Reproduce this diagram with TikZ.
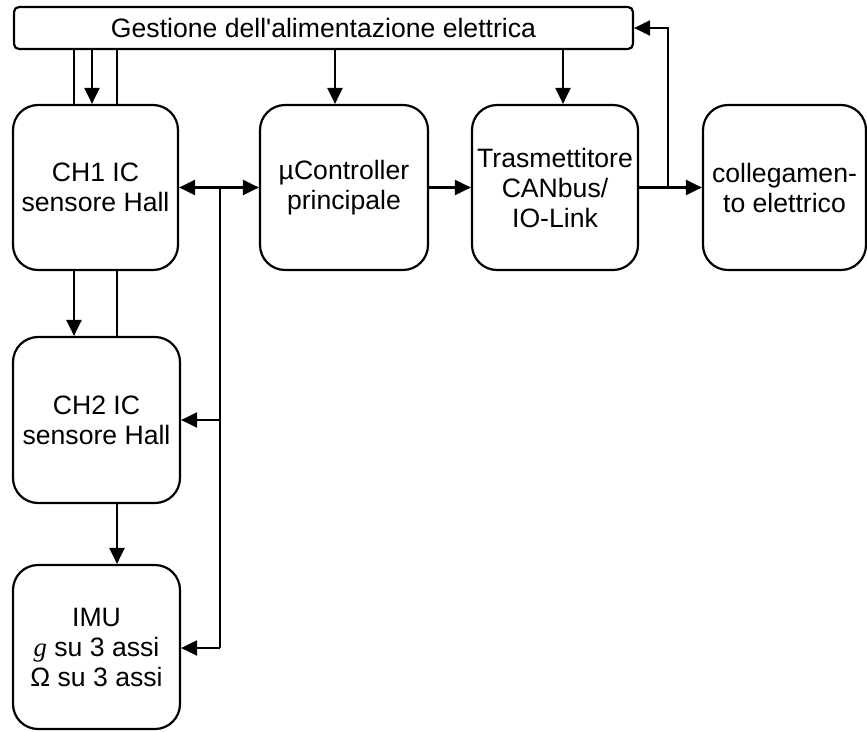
\documentclass[tikz,border=0pt]{standalone}
\usepackage{fontspec}
\setmainfont{Liberation Sans}
\newfontfamily\serifit{Liberation Serif}
\usetikzlibrary{arrows.meta}
\begin{document}
\begin{tikzpicture}[x=1pt,y=-1pt,
  box/.style={draw, line width=2.2pt, rounded corners=25pt, inner sep=0pt, align=center,
    font=\fontsize{26.6}{30}\selectfont},
  conn/.style={line width=2.2pt},
  arr/.style={line width=2.2pt, -{Triangle[length=16pt,width=15pt]}},
  darr/.style={line width=2.2pt, {Triangle[length=16pt,width=15pt]}-{Triangle[length=16pt,width=15pt]}}]
\useasboundingbox (0,0) rectangle (867,731);
\node[box, rounded corners=5pt, minimum width=619pt, minimum height=42pt] (bar) at (323.5,28) {Gestione dell\textquotesingle alimentazione elettrica};
\node[box, minimum width=165pt, minimum height=165pt] (ch1) at (95.5,187.5) {CH1 IC\\sensore Hall};
\node[box, minimum width=168pt, minimum height=165pt] (uc) at (344,187.5) {µController\\principale};
\node[box, minimum width=166pt, minimum height=165pt] (tx) at (555,187.5) {Trasmettitore\\CANbus/\\IO-Link};
\node[box, minimum width=163pt, minimum height=165pt] (el) at (784.5,187.5) {collegamen-\\to elettrico};
\node[box, minimum width=167pt, minimum height=166pt] (ch2) at (96.5,420) {CH2 IC\\sensore Hall};
\node[box, minimum width=167pt, minimum height=164pt] (imu) at (96.5,647) {IMU\\{\serifit\itshape g} su 3 assi\\Ω su 3 assi};
% reference x positions
\coordinate (xa) at (74,0);
\coordinate (xb) at (92,0);
\coordinate (xc) at (117,0);
\coordinate (xu) at (335,0);
\coordinate (xt) at (563,0);
\coordinate (bus) at (220,187.5);
\coordinate (busend) at (220,648);
\coordinate (br) at (668,187.5);
% power bar to CH1
\draw[conn] (bar.south -| xa) -- (ch1.north -| xa);
\draw[arr] (bar.south -| xb) -- (ch1.north -| xb);
\draw[conn] (bar.south -| xc) -- (ch1.north -| xc);
\draw[arr] (bar.south -| xu) -- (uc.north -| xu);
\draw[arr] (bar.south -| xt) -- (tx.north -| xt);
% CH1 to CH2
\draw[arr] (ch1.south -| xa) -- (ch2.north -| xa);
\draw[conn] (ch1.south -| xc) -- (ch2.north -| xc);
% CH2 to IMU
\draw[arr] (ch2.south -| xc) -- (imu.north -| xc);
% bus
\draw[darr] (ch1.east) -- (uc.west);
\draw[conn] (bus) -- (busend);
\draw[arr] (bus |- ch2.east) -- (ch2.east);
\draw[arr] (busend) -- (busend -| imu.east);
% chain
\draw[arr] (uc.east) -- (tx.west);
\draw[arr] (tx.east) -- (el.west);
\draw[arr] (br) -- (br |- bar.east) -- (bar.east);
\end{tikzpicture}
\end{document}
